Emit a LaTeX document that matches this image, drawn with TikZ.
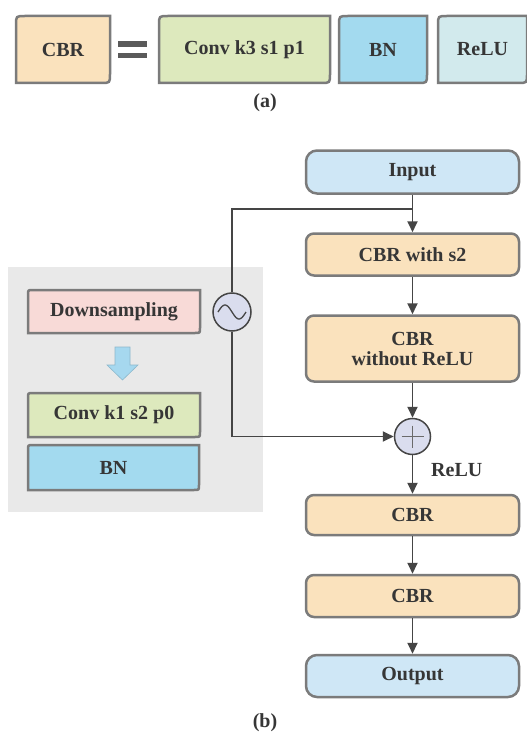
\documentclass[tikz,border=0pt]{standalone}
\usepackage{fontspec}
\setmainfont{Liberation Serif}
\usetikzlibrary{arrows.meta,backgrounds,calc}
\definecolor{bord}{HTML}{7B7B7B}
\definecolor{txt}{HTML}{363636}
\definecolor{arr}{HTML}{454545}
\definecolor{peach}{HTML}{FAE2BD}
\definecolor{green}{HTML}{DDE9BD}
\definecolor{bnblue}{HTML}{A3DAEF}
\definecolor{relucol}{HTML}{D2EAED}
\definecolor{inblue}{HTML}{CFE7F6}
\definecolor{pink}{HTML}{F8DAD7}
\definecolor{panel}{HTML}{E9E9E9}
\definecolor{circ}{HTML}{DADDEE}
\definecolor{blarrow}{HTML}{A6D8EF}
\definecolor{eqc}{HTML}{5A5A5A}
\tikzset{
  lbl/.style={font=\fontsize{20}{22}\selectfont\bfseries, text=txt, align=center, inner sep=0pt},
  boxline/.style={draw=bord, line width=2.5pt},
  rbox/.style={lbl, boxline, rounded corners=8pt, minimum width=213pt},
  conn/.style={draw=arr, line width=1.8pt},
  arrow/.style={conn, -{Triangle[length=11pt,width=10pt]}},
  ring/.style={circle, draw=arr, line width=1.5pt, fill=circ, inner sep=0pt},
}
% name, fill, x1, y1, x2, y2, text, radius
\newcommand\dgbox[8]{%
  \node[lbl] (#1) at ({(#3+#5)/2},{(#4+#6)/2}) {#7};
  \begin{pgfonlayer}{background}
  \draw[boxline, fill=#2] (#3,#4+#8) .. controls (#3,#4) .. (#3+#8,#4) -- (#5,#4)
     -- (#5,#6-#8) .. controls (#5,#6) .. (#5-#8,#6) -- (#3,#6) -- cycle;
  \end{pgfonlayer}}
\begin{document}
\begin{tikzpicture}[x=1pt,y=-1pt]
\useasboundingbox (0,0) rectangle (527,733);
\begin{pgfonlayer}{background}
\fill[white] (0,0) rectangle (527,733);
\fill[panel] (8,267) rectangle (263,512);
\end{pgfonlayer}
% ---------- (a)
\dgbox{cbr}{peach}{16}{16}{110}{83}{CBR}{9}
\fill[eqc] (118,41.5) rectangle (147,47);
\fill[eqc] (118,53) rectangle (147,58.5);
\dgbox{conv}{green}{159}{16}{330}{83}{Conv k3 s1 p1}{9}
\dgbox{bn}{bnblue}{339}{16}{427}{83}{BN}{9}
\dgbox{relu}{relucol}{438}{16}{527}{83}{ReLU}{9}
\node[lbl] (la) at (265,103) {(a)};
% ---------- (b) left panel
\dgbox{down}{pink}{28}{290}{200}{333}{Downsampling}{5}
\draw[fill=blarrow, draw=blarrow!85!black, line width=0.6pt]
  (115,347) -- (130,347) -- (130,365) -- (138,365) -- (122.5,380) -- (107,365) -- (115,365) -- cycle;
\dgbox{conv2}{green}{28}{393}{200}{437}{Conv k1 s2 p0}{5}
\dgbox{bn2}{bnblue}{28}{445}{199}{490}{BN}{5}
% ---------- (b) main column
\node[rbox, fill=inblue, minimum height=43pt, rounded corners=11pt] (input) at (412.5,172) {Input};
\node[rbox, fill=peach, minimum height=42pt] (cbr1) at (412.5,254.5) {CBR with s2};
\node[rbox, fill=peach, minimum height=66pt] (cbr2) at (412.5,348.5) {CBR\\[-2pt]without ReLU};
\node[ring, minimum size=36pt] (plus) at (412.5,436.5) {};
\draw[arr!80, line width=0.8pt] ($(plus.center)+(-11,0)$) -- ($(plus.center)+(11,0)$);
\draw[arr!80, line width=0.8pt] ($(plus.center)+(0,-11)$) -- ($(plus.center)+(0,11)$);
\node[rbox, fill=peach, minimum height=40pt] (cbr3) at (412.5,515) {CBR};
\node[rbox, fill=peach, minimum height=42pt] (cbr4) at (412.5,596) {CBR};
\node[rbox, fill=inblue, minimum height=42pt, rounded corners=11pt] (output) at (412.5,676) {Output};
\node[ring, minimum size=38pt] (sine) at (232,312) {};
\draw[arr, line width=1.3pt, shift={(sine.center)}, domain=-14:14, samples=40]
  plot ({\x},{7*sin(\x/14*180)});
\node[lbl, anchor=west] (relulbl) at (431,470) {ReLU};
\node[lbl] (lb) at (265,723) {(b)};
% ---------- connectors
\coordinate (br) at ($(input.south)+(0,14)$);
\draw[arrow] (input.south) -- (cbr1.north);
\draw[conn] (br) -| (sine.north);
\draw[arrow] (sine.south) |- (plus.west);
\draw[arrow] (cbr1.south) -- (cbr2.north);
\draw[arrow] (cbr2.south) -- (plus.north);
\draw[arrow] (plus.south) -- (cbr3.north);
\draw[arrow] (cbr3.south) -- (cbr4.north);
\draw[arrow] (cbr4.south) -- (output.north);
\end{tikzpicture}
\end{document}
